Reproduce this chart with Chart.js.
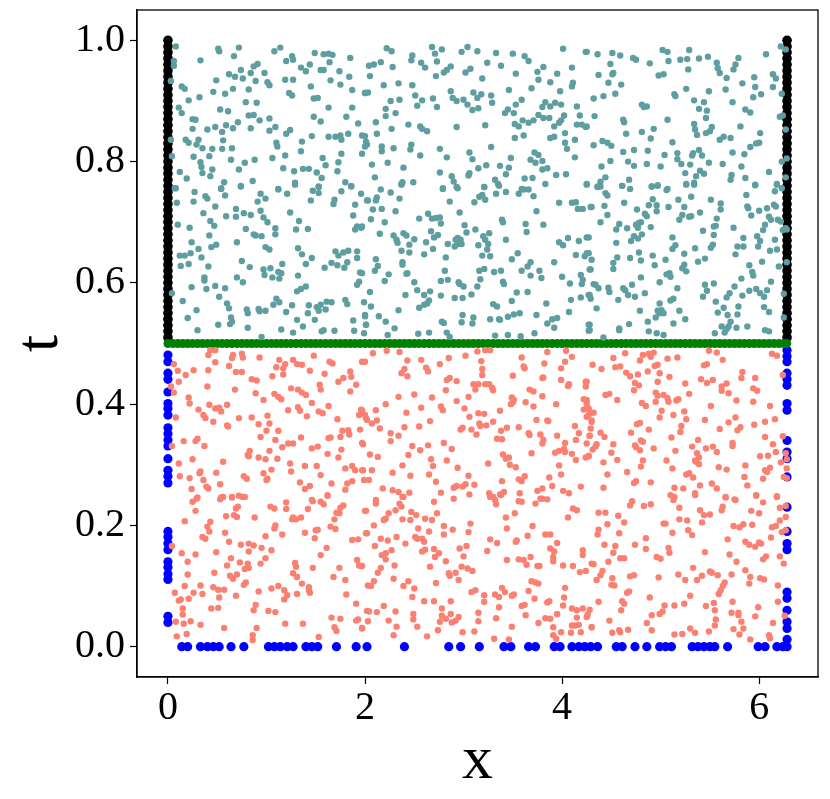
<!DOCTYPE html>
<html lang="en">
<head>
  <meta charset="UTF-8" />
  <title>Collocation points</title>
  <script src="https://cdn.jsdelivr.net/npm/chart.js"></script>
  <style>
    body { margin: 0; background: #fff; }
    #wrap { width: 830px; height: 799px; }
  </style>
</head>
<body>
  <div id="wrap"><canvas id="pts" width="830" height="799"></canvas></div>

  <script>
    // axis ticks
    const xTicks = [0, 2, 4, 6];
    const tTicks = [0, 0.2, 0.4, 0.6, 0.8, 1.0];

    // boundary points
    const blueBottomX = [0.14,0.20,0.33,0.40,0.46,0.52,0.64,0.77,1.02,1.08,1.14,1.21,1.27,1.40,1.46,1.52,1.71,1.91,2.02,2.40,2.85,2.97,3.16,3.41,3.48,3.66,3.73,3.92,3.98,4.10,4.17,4.23,4.29,4.36,4.55,4.61,4.74,4.86,4.99,5.05,5.11,5.32,5.38,5.44,5.50,5.55,5.68,5.99,6.06,6.18,6.24];
    const blueLeftT = [0.481,0.470,0.451,0.441,0.420,0.401,0.393,0.382,0.361,0.351,0.341,0.331,0.310,0.291,0.281,0.270,0.190,0.181,0.170,0.160,0.140,0.131,0.120,0.111,0.050,0.040];
    const blueRightT = [0.489,0.479,0.470,0.451,0.441,0.431,0.401,0.390,0.340,0.321,0.310,0.280,0.230,0.190,0.170,0.160,0.090,0.080,0.060,0.041,0.030,0.012,0.0];
    const blackT = [0.51,0.52,0.53,0.54,0.55,0.56,0.57,0.58,0.59,0.60,0.61,0.62,0.63,0.64,0.65,0.66,0.67,0.68,0.69,0.70,0.71,0.72,0.73,0.74,0.75,0.76,0.77,0.78,0.79,0.80,0.81,0.82,0.83,0.84,0.85,0.86,0.87,0.88,0.89,0.90,0.91,0.92,0.93,0.94,0.95,0.96,0.97,0.98,0.99,1.00];
    const greenX = [0,0.05,0.10,0.15,0.20,0.25,0.30,0.35,0.40,0.45,0.50,0.55,0.60,0.65,0.70,0.75,0.80,0.85,0.90,0.95,1.00,1.05,1.10,1.15,1.20,1.25,1.30,1.35,1.40,1.45,1.50,1.55,1.60,1.65,1.70,1.75,1.80,1.85,1.90,1.95,2.00,2.05,2.10,2.15,2.20,2.25,2.30,2.35,2.40,2.45,2.50,2.55,2.60,2.65,2.70,2.75,2.80,2.85,2.90,2.95,3.00,3.05,3.10,3.15,3.20,3.25,3.30,3.35,3.40,3.45,3.50,3.55,3.60,3.65,3.70,3.75,3.80,3.85,3.90,3.95,4.00,4.05,4.10,4.15,4.20,4.25,4.30,4.35,4.40,4.45,4.50,4.55,4.60,4.65,4.70,4.75,4.80,4.85,4.90,4.95,5.00,5.05,5.10,5.15,5.20,5.25,5.30,5.35,5.40,5.45,5.50,5.55,5.60,5.65,5.70,5.75,5.80,5.85,5.90,5.95,6.00,6.05,6.10,6.15,6.20,6.25,6.28];
    const xRight = 6.2832;
    const tMid = 0.5;

    // interior points, t > 0.5  [x, t]
    const upperPts = [
      [0.08,0.99],[0.51,0.986],[0.52,0.982],[0.72,0.988],[0.67,0.974],[0.33,0.967],[0.06,0.966],[0.06,0.958],[0.87,0.957],[0.91,0.961],
      [0.62,0.944],[0.74,0.951],[0.68,0.94],[0.76,0.937],[0.84,0.946],[0.98,0.946],[0.49,0.934],[0.03,0.933],[0.14,0.924],[0.17,0.92],
      [0.46,0.915],[0.58,0.912],[0.66,0.92],[0.82,0.919],[0.89,0.933],[1.01,0.931],[1.03,0.926],[0.32,0.906],[0.21,0.901],[0.79,0.898],
      [0.90,0.897],[0.11,0.889],[0.14,0.88],[0.53,0.886],[0.61,0.883],[0.25,0.87],[0.28,0.869],[0.82,0.876],[0.87,0.877],[0.93,0.868],
      [1.03,0.871],[0.71,0.865],[0.59,0.86],[0.48,0.857],[0.40,0.853],[0.25,0.854],[0.55,0.849],[0.66,0.855],[0.84,0.855],[1.03,0.851],
      [1.09,0.857],[0.18,0.836],[0.21,0.831],[0.31,0.836],[0.29,0.828],[0.56,0.835],[0.35,0.822],[0.45,0.821],[0.55,0.821],[0.65,0.822],
      [0.26,0.808],[0.42,0.809],[0.33,0.799],[0.34,0.791],[0.35,0.781],[0.64,0.803],[0.78,0.798],[0.88,0.803],[0.72,0.787],[0.45,0.787],
      [0.43,0.776],[0.12,0.783],[0.19,0.772],[0.57,0.766],[0.54,0.756],[0.74,0.76],[0.86,0.768],[0.08,0.756],[1.06,0.806],[1.19,0.81],
      [1.17,0.789],[1.10,0.831],[1.11,0.825],[1.20,0.846],[1.24,0.852],[1.36,0.833],[1.35,0.817],[1.46,0.842],[1.28,0.784],[1.37,0.788],
      [1.43,0.788],[1.51,0.782],[1.56,0.773],[1.29,0.765],[1.12,0.755],[1.53,0.759],[1.60,0.794],[1.57,0.806],[1.73,0.799],[1.72,0.784],
      [1.76,0.813],[1.63,0.841],[1.70,0.841],[1.75,0.843],[1.83,0.846],[1.76,0.836],[1.97,0.843],[2.02,0.828],[1.97,0.813],[1.93,0.863],
      [1.81,0.874],[1.63,0.889],[1.55,0.866],[1.48,0.874],[1.87,0.889],[2.00,0.913],[1.87,0.918],[1.75,0.927],[1.65,0.934],[1.84,0.94],
      [1.74,0.949],[1.58,0.951],[1.55,0.951],[1.45,0.924],[1.52,0.905],[1.48,0.904],[1.27,0.935],[1.19,0.935],[1.08,0.982],[1.14,0.988],
      [1.20,0.966],[1.26,0.974],[1.27,0.968],[1.49,0.979],[1.58,0.977],[1.63,0.978],[1.67,0.976],[1.64,0.964],[1.85,0.971],[1.35,0.955],
      [1.40,0.949],[1.44,0.96],[1.23,0.913],[1.26,0.909],[1.80,0.766],[1.86,0.76],[0.03,0.836],[0.04,0.809],
      [2.22,0.987],[2.27,0.982],[2.68,0.989],[2.71,0.978],[2.78,0.985],[2.48,0.975],[2.47,0.967],[2.57,0.963],[2.61,0.955],[2.73,0.965],
      [2.98,0.981],[3.04,0.989],[3.14,0.982],[3.33,0.979],[3.50,0.978],[3.62,0.974],[3.66,0.966],[4.01,0.986],[4.24,0.981],[2.04,0.958],
      [2.09,0.960],[2.16,0.964],[2.28,0.956],[2.05,0.941],[2.80,0.947],[2.83,0.951],[2.87,0.957],[3.02,0.947],[3.07,0.953],[2.72,0.941],
      [3.19,0.937],[3.24,0.963],[3.38,0.958],[3.53,0.945],[3.75,0.948],[3.81,0.956],[3.95,0.945],[4.10,0.955],[3.76,0.935],[3.88,0.931],
      [4.11,0.930],[4.10,0.924],[3.98,0.916],[2.19,0.926],[2.34,0.929],[2.48,0.926],[2.00,0.913],[2.03,0.914],[2.26,0.900],[2.35,0.902],
      [2.51,0.909],[2.58,0.901],[2.53,0.892],[2.69,0.904],[2.73,0.890],[2.87,0.916],[2.89,0.905],[2.93,0.900],[3.00,0.902],[3.04,0.894],
      [3.10,0.914],[3.14,0.905],[3.18,0.911],[3.09,0.885],[3.15,0.888],[3.28,0.909],[3.29,0.897],[3.46,0.918],[3.69,0.921],[3.45,0.886],
      [3.42,0.880],[3.53,0.894],[3.59,0.902],[3.51,0.880],[3.80,0.890],[3.83,0.898],[3.88,0.891],[3.93,0.897],[3.99,0.894],[3.76,0.877],
      [3.81,0.872],[3.87,0.872],[4.02,0.876],[3.99,0.868],[3.97,0.864],[4.15,0.891],[4.18,0.876],[2.21,0.887],[2.21,0.875],[2.31,0.880],
      [2.11,0.865],[2.27,0.854],[2.44,0.861],[2.56,0.858],[2.58,0.854],[2.63,0.850],[2.93,0.857],[3.22,0.860],[3.52,0.862],[3.56,0.858],
      [3.60,0.868],[3.66,0.864],[3.71,0.868],[3.92,0.858],[4.15,0.861],[4.20,0.861],[4.24,0.857],[4.03,0.847],[3.88,0.839],[3.92,0.841],
      [3.52,0.839],[3.61,0.843],[4.13,0.836],[2.12,0.846],[2.00,0.842],[2.00,0.825],[2.01,0.833],[2.17,0.825],[2.17,0.817],[2.29,0.822],
      [2.47,0.828],[2.46,0.820],[2.56,0.810],[2.76,0.821],[2.83,0.807],[3.06,0.815],[3.09,0.804],[3.28,0.824],[3.48,0.806],[3.72,0.815],
      [3.76,0.811],[3.68,0.803],[3.73,0.798],[3.80,0.801],[4.03,0.831],[4.05,0.821],[4.13,0.807],[2.07,0.795],[2.23,0.798],[2.39,0.790],
      [2.76,0.782],[2.88,0.776],[2.90,0.767],[3.06,0.781],[3.05,0.777],[3.15,0.789],[3.23,0.794],[3.37,0.793],[3.46,0.790],[3.43,0.779],
      [3.32,0.770],[3.35,0.763],[3.62,0.772],[3.70,0.773],[3.80,0.787],[3.85,0.789],[3.83,0.763],[3.94,0.778],[4.04,0.779],[2.10,0.774],
      [2.38,0.766],[2.37,0.763],[2.49,0.766],[2.79,0.756],[2.93,0.758],[3.21,0.758],[3.59,0.755],[4.25,0.763],
      [4.25,0.981],[4.36,0.977],[4.51,0.979],[4.59,0.975],[4.72,0.971],[4.75,0.968],[4.89,0.962],[5.02,0.984],[5.07,0.981],[5.08,0.966],
      [5.20,0.968],[5.27,0.969],[5.29,0.984],[5.39,0.970],[5.48,0.973],[5.57,0.963],[5.58,0.954],[5.60,0.946],[5.74,0.952],[5.76,0.960],
      [5.79,0.971],[6.07,0.977],[6.22,0.990],[6.27,0.985],[4.49,0.961],[4.52,0.946],[4.51,0.944],[4.37,0.943],[4.47,0.930],[4.60,0.927],
      [4.98,0.942],[5.03,0.944],[5.28,0.952],[5.67,0.938],[5.83,0.929],[5.95,0.939],[5.96,0.923],[6.14,0.944],[6.17,0.937],[6.14,0.923],
      [6.23,0.912],[5.66,0.919],[5.49,0.916],[5.26,0.920],[4.32,0.904],[4.42,0.908],[4.54,0.912],[5.15,0.908],[5.14,0.911],[5.34,0.901],
      [5.44,0.898],[5.39,0.887],[5.47,0.884],[5.46,0.872],[5.73,0.898],[5.94,0.906],[6.02,0.911],[5.86,0.886],[5.91,0.881],[4.81,0.894],
      [4.83,0.890],[4.86,0.891],[4.62,0.869],[4.63,0.865],[5.07,0.869],[4.33,0.875],[4.25,0.858],[6.21,0.874],[6.24,0.876],[6.27,0.853],
      [5.34,0.862],[5.35,0.853],[5.37,0.844],[5.46,0.847],[5.50,0.850],[5.52,0.857],[4.93,0.854],[4.81,0.849],[4.90,0.838],[4.65,0.846],
      [5.12,0.832],[5.81,0.858],[5.60,0.836],[5.64,0.841],[5.71,0.839],[6.01,0.847],[5.91,0.824],[5.97,0.830],[6.00,0.831],[4.41,0.834],
      [4.46,0.831],[4.50,0.826],[4.32,0.827],[4.62,0.816],[4.73,0.819],[4.87,0.818],[5.04,0.811],[5.17,0.814],[5.17,0.804],[5.21,0.796],
      [5.33,0.814],[5.32,0.810],[5.39,0.819],[5.42,0.810],[5.30,0.795],[5.25,0.781],[5.36,0.776],[5.40,0.785],[5.44,0.780],[5.49,0.798],
      [5.63,0.796],[5.73,0.815],[5.82,0.792],[5.85,0.812],[6.23,0.800],[6.28,0.805],[4.40,0.792],[4.49,0.801],[4.67,0.800],[4.73,0.793],
      [4.86,0.796],[5.00,0.792],[4.25,0.762],[4.36,0.759],[4.39,0.767],[4.44,0.774],[4.61,0.760],[4.68,0.770],[4.91,0.759],[4.97,0.761],
      [5.07,0.755],[5.26,0.763],[5.34,0.765],[5.72,0.778],[5.71,0.770],[5.86,0.773],[5.96,0.762],[6.10,0.783],[6.18,0.763],[6.27,0.774],
      [6.23,0.756],
      [0.07,0.756],[0.27,0.750],[0.38,0.743],[0.40,0.739],[0.54,0.755],[0.58,0.744],[0.09,0.732],[0.26,0.734],[0.48,0.726],[0.74,0.759],
      [0.91,0.734],[0.94,0.747],[0.99,0.739],[1.12,0.754],[1.21,0.747],[1.29,0.762],[1.47,0.752],[1.53,0.748],[1.53,0.758],[1.76,0.751],
      [1.86,0.759],[1.45,0.736],[1.69,0.737],[1.68,0.730],[1.90,0.729],[1.96,0.747],[2.02,0.736],[0.69,0.722],[0.69,0.709],[0.77,0.715],
      [0.84,0.712],[0.94,0.719],[0.97,0.708],[1.01,0.700],[0.36,0.715],[0.43,0.702],[0.47,0.694],[0.59,0.710],[1.24,0.716],[1.33,0.702],
      [1.42,0.689],[1.30,0.688],[1.09,0.690],[1.09,0.680],[1.88,0.711],[0.10,0.696],[0.22,0.691],[0.42,0.678],[0.24,0.667],[0.79,0.689],
      [0.87,0.680],[0.89,0.678],[0.95,0.677],[0.70,0.667],[0.31,0.656],[0.44,0.659],[0.49,0.663],[0.12,0.645],[0.17,0.645],[0.23,0.649],
      [0.34,0.642],[0.13,0.628],[0.21,0.631],[0.41,0.627],[0.99,0.659],[1.03,0.655],[1.32,0.657],[1.36,0.647],[1.46,0.641],[1.40,0.631],
      [0.75,0.636],[0.83,0.626],[0.97,0.622],[0.98,0.613],[1.04,0.624],[1.16,0.631],[1.12,0.618],[1.15,0.616],[1.13,0.607],[1.06,0.609],
      [1.32,0.612],[1.59,0.625],[1.66,0.633],[1.72,0.629],[1.79,0.625],[1.70,0.652],[1.73,0.645],[1.78,0.650],[1.83,0.653],[1.82,0.634],
      [1.92,0.641],[1.92,0.652],[1.95,0.617],[1.90,0.688],[1.92,0.693],[1.96,0.691],[0.37,0.609],[0.37,0.604],[0.24,0.593],[0.39,0.590],
      [0.48,0.595],[0.58,0.591],[0.70,0.609],[0.76,0.601],[0.52,0.577],[0.15,0.570],[0.29,0.555],[0.20,0.542],[0.30,0.522],[0.51,0.531],
      [0.60,0.566],[0.62,0.558],[0.64,0.543],[0.65,0.536],[0.63,0.532],[0.80,0.556],[0.81,0.550],[0.81,0.526],[0.92,0.557],[0.93,0.553],
      [0.99,0.554],[0.95,0.511],[1.10,0.574],[1.13,0.568],[1.07,0.564],[1.20,0.552],[1.26,0.563],[1.31,0.586],[1.35,0.590],[1.40,0.594],
      [1.43,0.563],[1.31,0.539],[1.37,0.528],[1.42,0.550],[1.49,0.539],[1.51,0.560],[1.53,0.554],[1.55,0.564],[1.61,0.569],[1.66,0.568],
      [1.60,0.556],[1.80,0.572],[1.82,0.565],[1.56,0.520],[1.58,0.522],[1.69,0.521],[1.15,0.523],[1.27,0.518],[1.88,0.538],[1.89,0.521],
      [2.00,0.545],[2.01,0.531],[1.94,0.602],[1.92,0.597],[0.04,0.583],
      [2.16,0.754],[2.26,0.749],[2.37,0.762],[2.12,0.741],[2.11,0.736],[2.03,0.736],[2.35,0.739],[2.08,0.721],[2.17,0.722],[2.31,0.718],
      [2.06,0.705],[2.20,0.700],[1.97,0.693],[2.15,0.681],[2.29,0.678],[2.32,0.671],[2.33,0.666],[2.39,0.682],[2.42,0.678],[2.50,0.672],
      [2.45,0.663],[2.37,0.653],[2.45,0.650],[2.60,0.647],[2.62,0.667],[2.69,0.656],[2.67,0.685],[2.70,0.675],[2.74,0.679],[2.55,0.706],
      [2.64,0.714],[2.68,0.706],[2.72,0.707],[2.76,0.708],[2.77,0.698],[2.79,0.755],[2.86,0.734],[2.94,0.756],[2.96,0.716],[3.01,0.695],
      [3.03,0.683],[2.92,0.671],[2.94,0.674],[2.97,0.671],[2.94,0.664],[2.91,0.660],[2.98,0.664],[2.84,0.664],[2.82,0.642],[3.12,0.688],
      [3.15,0.662],[3.20,0.677],[3.22,0.671],[3.25,0.664],[3.24,0.655],[3.19,0.645],[3.27,0.644],[3.26,0.682],[3.11,0.733],[3.16,0.742],
      [3.19,0.745],[3.22,0.737],[3.21,0.758],[3.33,0.747],[3.36,0.760],[3.43,0.750],[3.56,0.747],[3.61,0.754],[3.66,0.754],[3.71,0.743],
      [3.39,0.704],[3.40,0.700],[3.43,0.671],[3.63,0.697],[3.64,0.684],[3.74,0.718],[3.81,0.696],[3.97,0.732],[4.10,0.732],[4.14,0.733],
      [4.16,0.722],[4.21,0.722],[4.29,0.725],[4.06,0.674],[3.97,0.667],[4.01,0.662],[4.17,0.669],[4.27,0.675],[4.14,0.646],[4.23,0.644],
      [4.27,0.649],[3.92,0.634],[4.00,0.610],[4.08,0.599],[4.19,0.613],[4.21,0.605],[4.20,0.598],[4.29,0.622],[2.11,0.639],[2.13,0.628],
      [2.10,0.620],[2.24,0.614],[2.20,0.603],[1.97,0.616],[2.38,0.634],[2.38,0.630],[2.42,0.615],[2.43,0.616],[2.50,0.601],[2.53,0.588],
      [2.41,0.580],[2.60,0.580],[2.66,0.586],[2.65,0.571],[2.63,0.566],[2.60,0.564],[2.55,0.559],[2.77,0.603],[2.81,0.620],[2.84,0.605],
      [2.77,0.579],[2.95,0.601],[2.96,0.598],[3.00,0.594],[2.91,0.575],[2.99,0.575],[3.08,0.581],[3.14,0.594],[3.17,0.606],[3.16,0.620],
      [3.21,0.623],[3.31,0.618],[3.38,0.620],[3.40,0.602],[3.41,0.598],[3.49,0.639],[3.55,0.649],[3.59,0.620],[3.65,0.627],[3.68,0.634],
      [3.68,0.612],[3.77,0.620],[3.79,0.608],[3.54,0.584],[3.65,0.585],[3.49,0.570],[3.84,0.566],[4.09,0.572],[4.19,0.576],[4.28,0.580],
      [2.05,0.585],[1.99,0.568],[2.06,0.561],[2.00,0.547],[2.14,0.545],[2.21,0.536],[2.34,0.555],[2.30,0.525],[2.23,0.514],[2.01,0.531],
      [1.99,0.517],[2.54,0.516],[2.65,0.518],[2.78,0.536],[2.80,0.534],[2.83,0.518],[2.86,0.511],[2.99,0.547],[2.98,0.535],[3.10,0.543],
      [3.09,0.533],[3.27,0.540],[3.30,0.565],[3.34,0.561],[3.36,0.540],[3.37,0.539],[3.45,0.544],[3.51,0.548],[3.57,0.550],[3.74,0.547],
      [3.32,0.513],[3.45,0.514],[3.58,0.512],[3.72,0.517],[3.85,0.533],[3.90,0.540],[3.92,0.526],[3.95,0.542],[4.07,0.552],[4.28,0.531],
      [4.27,0.521],
      [4.36,0.758],[4.39,0.759],[4.44,0.748],[4.46,0.744],[4.61,0.760],[4.69,0.755],[4.91,0.759],[4.97,0.760],[5.06,0.753],[5.26,0.762],
      [5.34,0.762],[5.87,0.745],[5.96,0.761],[6.16,0.751],[6.18,0.762],[4.30,0.725],[4.43,0.727],[4.46,0.712],[4.63,0.732],[4.76,0.721],
      [4.84,0.714],[4.86,0.710],[4.88,0.728],[4.96,0.728],[4.96,0.718],[4.92,0.738],[5.08,0.725],[5.18,0.737],[5.24,0.725],[5.22,0.712],
      [5.19,0.704],[5.29,0.709],[5.31,0.710],[5.31,0.742],[5.40,0.716],[5.51,0.737],[5.61,0.731],[5.61,0.721],[5.57,0.706],[5.88,0.726],
      [5.89,0.723],[6.00,0.719],[6.08,0.723],[6.15,0.729],[6.17,0.726],[5.92,0.711],[6.10,0.709],[6.12,0.704],[6.19,0.704],[6.22,0.701],
      [6.27,0.690],[6.24,0.687],[6.28,0.688],[4.39,0.700],[4.55,0.688],[4.58,0.697],[4.66,0.690],[4.75,0.696],[4.78,0.699],[4.77,0.691],
      [4.80,0.700],[4.90,0.692],[4.25,0.675],[4.55,0.666],[4.70,0.669],[4.73,0.677],[4.77,0.673],[4.81,0.680],[5.12,0.675],[5.15,0.662],
      [5.12,0.656],[5.24,0.648],[5.35,0.657],[5.43,0.686],[5.54,0.693],[5.56,0.694],[5.54,0.679],[5.53,0.663],[5.51,0.658],[5.74,0.691],
      [5.84,0.674],[5.84,0.660],[5.78,0.660],[5.76,0.647],[5.98,0.677],[6.01,0.669],[5.99,0.660],[6.04,0.687],[6.06,0.696],[6.16,0.671],
      [6.11,0.653],[6.18,0.655],[4.25,0.649],[4.30,0.638],[4.28,0.622],[4.52,0.633],[4.56,0.642],[4.52,0.623],[4.69,0.641],[4.78,0.650],
      [4.80,0.637],[4.92,0.645],[4.94,0.629],[5.05,0.638],[5.24,0.630],[5.22,0.624],[5.26,0.619],[5.38,0.635],[5.45,0.640],[5.06,0.614],
      [5.09,0.616],[5.10,0.610],[4.99,0.601],[4.80,0.609],[4.62,0.591],[4.64,0.588],[4.71,0.597],[4.32,0.598],[4.34,0.597],[4.37,0.591],
      [4.27,0.580],[4.29,0.574],[4.47,0.592],[4.48,0.585],[4.57,0.572],[4.74,0.577],[4.67,0.580],[4.84,0.583],[5.17,0.591],[5.10,0.571],
      [5.13,0.574],[4.99,0.566],[5.01,0.555],[4.99,0.550],[5.03,0.550],[4.79,0.554],[4.87,0.536],[4.95,0.543],[4.97,0.554],[4.68,0.532],
      [4.58,0.525],[4.58,0.522],[4.88,0.520],[4.96,0.517],[5.03,0.514],[5.19,0.554],[5.25,0.540],[5.13,0.533],[5.45,0.597],[5.47,0.587],
      [5.43,0.577],[5.54,0.599],[5.56,0.569],[5.58,0.551],[5.64,0.559],[5.68,0.547],[5.70,0.583],[5.67,0.576],[5.75,0.594],[5.82,0.607],
      [5.78,0.548],[5.79,0.561],[5.83,0.579],[5.90,0.629],[5.93,0.618],[5.94,0.612],[5.90,0.587],[5.97,0.590],[6.01,0.583],[6.05,0.577],
      [6.08,0.588],[6.12,0.602],[6.05,0.560],[6.10,0.552],[6.03,0.635],[6.20,0.627],[6.25,0.582],[6.28,0.634],[6.25,0.543],[5.88,0.528],
      [5.71,0.536],[5.69,0.528],[5.67,0.524],[5.62,0.528],[5.55,0.517],[5.65,0.518],[5.77,0.526],[6.06,0.522],[6.10,0.520],[4.42,0.510],
      [4.35,0.558],[4.27,0.531],[4.28,0.522]
    ];

    // interior points, t < 0.5  [x, t]
    const lowerPts = [
      [0.43,0.489],[0.48,0.489],[0.41,0.481],[0.48,0.469],[0.62,0.463],[0.65,0.476],[0.66,0.481],[0.75,0.483],[0.76,0.477],[0.69,0.453],
      [0.75,0.453],[0.93,0.477],[1.13,0.473],[1.19,0.466],[1.27,0.473],[1.31,0.466],[1.36,0.465],[1.10,0.461],[1.17,0.459],[1.17,0.449],
      [1.06,0.446],[1.44,0.455],[1.48,0.480],[1.64,0.470],[1.67,0.467],[1.59,0.450],[1.85,0.454],[1.86,0.445],[1.78,0.443],[1.73,0.437],
      [1.91,0.432],[1.85,0.421],[1.97,0.470],[0.06,0.466],[0.10,0.455],[0.18,0.448],[0.26,0.456],[0.41,0.456],[0.11,0.437],[0.03,0.429],
      [0.06,0.419],[0.40,0.429],[0.68,0.424],[0.85,0.441],[0.90,0.439],[0.89,0.418],[0.97,0.407],[1.08,0.417],[1.12,0.412],[1.15,0.408],
      [1.25,0.426],[1.32,0.424],[1.36,0.419],[1.40,0.415],[1.46,0.402],[1.54,0.432],[1.55,0.424],[0.21,0.411],[0.22,0.401],[0.31,0.391],
      [0.36,0.382],[0.38,0.377],[0.42,0.399],[0.48,0.393],[0.52,0.394],[0.54,0.388],[0.60,0.399],[0.46,0.371],[0.60,0.365],[0.61,0.363],
      [0.72,0.377],[0.85,0.378],[0.92,0.367],[1.01,0.381],[1.03,0.368],[1.22,0.390],[1.32,0.395],[1.34,0.389],[1.41,0.380],[1.53,0.388],
      [1.57,0.385],[1.63,0.397],[1.72,0.375],[1.96,0.391],[1.94,0.382],[2.01,0.377],[0.08,0.378],[0.16,0.339],[0.28,0.339],[0.30,0.343],
      [0.37,0.331],[0.04,0.331],[0.25,0.309],[0.11,0.302],[0.12,0.281],[0.22,0.278],[0.32,0.286],[0.33,0.289],[0.36,0.275],[0.39,0.264],
      [0.41,0.261],[0.24,0.260],[0.30,0.246],[0.54,0.246],[0.56,0.247],[0.65,0.247],[0.49,0.287],[0.56,0.305],[0.77,0.281],[0.80,0.277],
      [0.82,0.314],[0.81,0.316],[0.83,0.323],[0.92,0.312],[0.99,0.309],[0.97,0.286],[1.00,0.275],[1.01,0.277],[1.05,0.292],[1.11,0.310],
      [1.03,0.323],[1.16,0.329],[1.00,0.356],[0.94,0.346],[1.12,0.356],[1.09,0.341],[1.22,0.335],[1.27,0.335],[1.35,0.345],[1.24,0.302],
      [1.25,0.289],[1.39,0.298],[1.51,0.298],[1.55,0.283],[1.46,0.327],[1.52,0.330],[1.62,0.318],[1.63,0.344],[1.65,0.345],[1.73,0.312],
      [1.76,0.325],[1.75,0.346],[1.77,0.356],[1.83,0.357],[1.84,0.350],[1.95,0.358],[1.98,0.334],[1.80,0.294],[1.87,0.298],[1.90,0.291],
      [1.98,0.291],[1.34,0.271],[1.39,0.260],[1.44,0.265],[1.62,0.249],[1.66,0.269],[1.80,0.259],[1.82,0.269],[1.87,0.273],[0.72,0.249],
      [0.76,0.247],[0.53,0.268],[1.46,0.242],
      [2.08,0.484],[2.22,0.488],[2.35,0.486],[2.00,0.470],[2.43,0.472],[2.57,0.473],[2.62,0.460],[2.64,0.454],[2.37,0.451],[2.40,0.458],
      [2.43,0.446],[2.76,0.466],[2.85,0.476],[3.02,0.480],[3.14,0.487],[3.22,0.489],[3.27,0.489],[3.18,0.471],[3.19,0.458],[3.19,0.448],
      [2.86,0.443],[2.83,0.440],[2.93,0.438],[3.10,0.433],[3.15,0.433],[3.12,0.424],[3.22,0.433],[3.26,0.433],[3.29,0.427],[3.30,0.423],
      [2.82,0.423],[2.50,0.416],[2.34,0.412],[2.68,0.411],[2.21,0.400],[2.57,0.394],[2.42,0.386],[2.11,0.390],[1.97,0.390],[2.00,0.382],
      [2.02,0.374],[2.12,0.373],[2.07,0.368],[2.93,0.405],[2.77,0.396],[2.79,0.390],[3.05,0.412],[3.01,0.393],[3.06,0.379],[3.15,0.385],
      [3.21,0.384],[3.30,0.371],[3.37,0.389],[3.16,0.368],[3.17,0.364],[3.23,0.365],[2.66,0.372],[2.40,0.362],[2.55,0.363],[2.15,0.360],
      [2.97,0.358],[2.99,0.361],[3.08,0.358],[3.13,0.350],[3.38,0.356],[3.44,0.361],[3.56,0.362],[3.34,0.343],[3.39,0.342],[3.66,0.352],
      [3.67,0.349],[3.78,0.350],[3.81,0.341],[3.80,0.335],[3.63,0.403],[3.71,0.396],[3.74,0.374],[3.86,0.372],[3.94,0.400],[3.50,0.447],
      [3.61,0.462],[3.62,0.459],[3.59,0.477],[3.82,0.467],[3.85,0.486],[4.04,0.488],[4.10,0.478],[4.03,0.470],[3.99,0.459],[3.80,0.443],
      [3.81,0.444],[3.67,0.424],[3.71,0.421],[3.80,0.413],[3.99,0.440],[4.07,0.433],[4.06,0.430],[4.24,0.437],[4.24,0.429],[4.22,0.408],
      [4.25,0.401],[4.22,0.391],[4.27,0.393],[4.27,0.382],[4.30,0.371],[3.49,0.411],[3.50,0.403],[3.48,0.400],[3.51,0.407],[4.13,0.364],
      [4.17,0.352],[4.14,0.341],[4.03,0.336],[3.95,0.348],[4.02,0.326],[3.93,0.320],[3.97,0.323],[4.03,0.321],[4.10,0.318],[4.14,0.308],
      [4.24,0.312],[4.27,0.314],[4.28,0.348],[3.85,0.373],[1.97,0.336],[2.05,0.317],[2.13,0.313],[2.26,0.352],[2.26,0.339],[2.34,0.348],
      [2.48,0.331],[2.56,0.324],[2.64,0.332],[2.80,0.336],[2.88,0.326],[2.67,0.309],[2.69,0.298],[2.38,0.299],[2.44,0.316],[2.83,0.307],
      [2.94,0.295],[3.05,0.282],[3.25,0.302],[3.40,0.317],[3.43,0.310],[3.46,0.312],[3.47,0.300],[3.53,0.296],[3.69,0.319],[3.39,0.273],
      [3.41,0.255],[3.38,0.251],[3.56,0.276],[3.59,0.273],[3.62,0.281],[3.75,0.257],[3.80,0.261],[3.87,0.279],[3.90,0.265],[3.97,0.299],
      [3.99,0.284],[4.01,0.257],[4.07,0.253],[4.19,0.264],[1.97,0.291],[1.99,0.275],[2.04,0.275],[2.07,0.291],[2.18,0.261],[2.28,0.287],
      [2.28,0.258],[2.34,0.255],[2.46,0.282],[2.39,0.247],[2.45,0.254],[2.65,0.284],[2.72,0.272],[2.77,0.254],[2.90,0.262],[2.93,0.265],
      [2.99,0.264],[3.02,0.268],[3.06,0.251],[3.11,0.267],[3.26,0.253],[3.30,0.247],[3.37,0.251],[3.57,0.253],[3.80,0.244],[3.85,0.243],
      [4.52,0.476],[4.64,0.484],[4.79,0.472],[4.82,0.481],[4.88,0.483],[4.90,0.478],[4.93,0.485],[5.07,0.475],[5.17,0.477],[4.31,0.465],
      [4.40,0.458],[4.54,0.461],[4.59,0.462],[4.65,0.452],[4.69,0.446],[4.77,0.449],[4.87,0.454],[4.94,0.463],[4.97,0.465],[4.99,0.451],
      [4.74,0.435],[4.78,0.431],[4.73,0.423],[4.25,0.437],[4.97,0.437],[5.09,0.445],[5.25,0.434],[5.41,0.441],[5.47,0.435],[5.53,0.440],
      [5.44,0.464],[5.47,0.466],[5.49,0.488],[5.57,0.485],[5.63,0.473],[5.83,0.453],[5.82,0.443],[5.96,0.443],[6.13,0.483],[6.18,0.480],
      [6.24,0.448],[5.62,0.429],[5.67,0.434],[5.62,0.422],[5.69,0.418],[5.94,0.426],[5.98,0.422],[4.95,0.419],[4.97,0.414],[5.03,0.415],
      [5.07,0.410],[5.08,0.404],[5.16,0.406],[5.18,0.408],[4.81,0.402],[4.85,0.397],[4.95,0.404],[5.29,0.417],[4.44,0.415],[4.48,0.417],
      [4.56,0.407],[4.25,0.407],[4.25,0.393],[4.29,0.386],[4.32,0.386],[4.30,0.373],[4.25,0.379],[5.77,0.406],[5.94,0.404],[6.11,0.397],
      [5.51,0.397],[5.01,0.389],[4.99,0.378],[5.13,0.382],[5.24,0.388],[5.26,0.375],[5.21,0.364],[5.20,0.354],[4.88,0.358],[4.76,0.367],
      [4.79,0.369],[4.70,0.353],[4.39,0.353],[4.43,0.346],[4.29,0.360],[4.28,0.348],[4.25,0.335],[4.34,0.330],[4.35,0.334],[4.31,0.325],
      [4.27,0.315],[4.52,0.334],[4.50,0.320],[4.56,0.308],[4.42,0.304],[4.75,0.329],[4.79,0.324],[4.74,0.332],[4.82,0.338],[4.80,0.340],
      [4.93,0.327],[5.11,0.345],[5.15,0.323],[5.06,0.307],[4.80,0.297],[4.82,0.307],[4.66,0.288],[4.46,0.284],[4.42,0.262],[4.73,0.270],
      [4.75,0.273],[4.90,0.271],[5.12,0.294],[5.14,0.262],[5.23,0.261],[5.26,0.284],[5.29,0.286],[5.33,0.279],[5.38,0.341],[5.32,0.330],
      [5.37,0.319],[5.39,0.312],[5.36,0.305],[5.39,0.301],[5.35,0.307],[5.46,0.327],[5.53,0.330],[5.57,0.321],[5.45,0.374],[5.60,0.359],
      [5.69,0.370],[5.76,0.378],[5.78,0.357],[5.81,0.362],[5.73,0.336],[5.73,0.331],[5.95,0.366],[6.06,0.371],[6.16,0.375],[6.06,0.346],
      [6.14,0.334],[6.17,0.321],[6.24,0.347],[6.27,0.319],[6.28,0.309],[6.22,0.304],[6.01,0.314],[6.09,0.315],[5.86,0.299],[5.59,0.296],
      [5.67,0.292],[5.52,0.269],[5.57,0.261],[5.40,0.266],[5.35,0.253],[5.85,0.280],[5.88,0.266],[6.04,0.277],[6.06,0.291],[6.08,0.288],
      [6.11,0.295],[6.28,0.294],[6.25,0.280],[6.28,0.278],[5.97,0.249],[6.18,0.248],[5.66,0.246],[5.75,0.243],[5.14,0.247],
      [0.25,0.239],[0.29,0.244],[0.53,0.243],[0.65,0.246],[0.76,0.247],[0.78,0.247],[0.28,0.224],[0.71,0.231],[0.69,0.228],[0.59,0.215],
      [0.67,0.217],[0.70,0.214],[0.88,0.213],[1.04,0.231],[1.08,0.228],[1.20,0.238],[1.20,0.227],[1.26,0.210],[1.30,0.210],[1.35,0.213],
      [1.42,0.227],[1.47,0.240],[1.55,0.239],[1.58,0.235],[1.62,0.250],[1.71,0.221],[1.75,0.229],[1.78,0.233],[1.69,0.210],[1.74,0.220],
      [2.01,0.224],[0.17,0.207],[0.43,0.206],[0.40,0.198],[0.42,0.190],[0.35,0.181],[0.38,0.178],[0.58,0.188],[0.62,0.173],[0.74,0.168],
      [0.82,0.170],[0.87,0.167],[0.82,0.157],[0.95,0.163],[1.05,0.159],[0.99,0.182],[1.08,0.195],[1.09,0.200],[1.16,0.185],[1.27,0.213],
      [1.39,0.188],[1.50,0.192],[1.52,0.193],[1.49,0.179],[1.65,0.198],[1.70,0.194],[1.87,0.176],[1.93,0.177],[2.01,0.187],[1.61,0.163],
      [1.55,0.151],[0.04,0.166],[0.14,0.154],[0.28,0.152],[0.20,0.140],[0.49,0.156],[0.64,0.146],[0.73,0.139],[0.60,0.134],[0.81,0.137],
      [0.82,0.130],[0.78,0.128],[0.94,0.137],[0.99,0.146],[1.29,0.138],[1.30,0.132],[1.27,0.121],[1.31,0.115],[1.36,0.104],[1.47,0.130],
      [1.43,0.098],[1.43,0.093],[1.44,0.089],[1.68,0.115],[1.74,0.130],[1.80,0.110],[1.92,0.143],[1.94,0.134],[1.96,0.133],[2.03,0.101],
      [1.81,0.086],[1.91,0.071],[1.93,0.045],[0.20,0.119],[0.47,0.122],[0.63,0.117],[0.66,0.112],[0.70,0.119],[0.79,0.106],[0.77,0.102],
      [0.92,0.091],[1.05,0.096],[1.12,0.100],[1.18,0.093],[1.21,0.085],[1.31,0.087],[1.18,0.078],[0.07,0.089],[0.13,0.078],[0.11,0.076],
      [0.17,0.100],[0.21,0.079],[0.26,0.089],[0.33,0.101],[0.35,0.087],[0.46,0.098],[0.51,0.094],[0.57,0.094],[0.52,0.081],[0.69,0.084],
      [1.02,0.059],[1.09,0.057],[0.89,0.069],[0.87,0.060],[0.44,0.063],[0.51,0.064],[0.15,0.063],[0.15,0.053],[0.16,0.038],[0.23,0.042],
      [0.08,0.041],[0.33,0.036],[0.09,0.017],[0.19,0.021],[0.57,0.031],[0.90,0.031],[0.86,0.019],[0.86,0.011],[1.19,0.038],[1.37,0.038],
      [1.53,0.016],[1.66,0.048],[1.69,0.032],[1.71,0.026],[1.75,0.046],[1.91,0.043],[1.97,0.030],[2.02,0.059],
      [2.11,0.242],[2.11,0.236],[2.38,0.247],[2.70,0.239],[2.90,0.244],[3.27,0.247],[3.32,0.242],[3.33,0.235],[3.38,0.250],[3.56,0.240],
      [3.59,0.239],[3.73,0.236],[3.78,0.244],[2.00,0.224],[2.24,0.220],[2.31,0.225],[2.35,0.236],[2.37,0.231],[2.47,0.222],[2.52,0.217],
      [2.38,0.210],[2.46,0.209],[2.61,0.211],[2.68,0.209],[2.73,0.220],[2.19,0.209],[2.21,0.211],[2.09,0.200],[2.02,0.187],[2.16,0.178],
      [2.23,0.175],[2.32,0.181],[2.41,0.170],[2.51,0.181],[2.54,0.195],[2.53,0.178],[2.58,0.178],[2.60,0.173],[2.65,0.190],[2.80,0.199],
      [2.89,0.193],[2.80,0.185],[3.05,0.189],[3.07,0.203],[3.43,0.213],[3.44,0.195],[3.52,0.220],[3.70,0.199],[3.65,0.183],[4.11,0.228],
      [4.15,0.225],[4.06,0.213],[3.83,0.185],[3.88,0.185],[3.95,0.171],[3.53,0.173],[3.54,0.175],[3.34,0.171],[3.27,0.177],[3.03,0.166],
      [2.96,0.162],[3.00,0.149],[3.24,0.158],[2.70,0.161],[2.71,0.148],[2.75,0.154],[2.61,0.160],[2.58,0.157],[2.27,0.159],[2.21,0.154],
      [2.17,0.151],[2.21,0.144],[2.10,0.166],[1.97,0.133],[2.16,0.130],[2.13,0.122],[2.30,0.134],[2.29,0.112],[2.39,0.100],[2.44,0.108],
      [2.50,0.096],[2.48,0.082],[2.09,0.108],[2.06,0.100],[2.66,0.132],[2.72,0.105],[2.82,0.141],[2.85,0.121],[2.86,0.117],[2.92,0.122],
      [2.98,0.132],[3.04,0.129],[3.09,0.125],[2.95,0.110],[3.44,0.143],[3.56,0.144],[3.61,0.143],[3.64,0.135],[3.68,0.148],[3.75,0.133],
      [3.77,0.133],[3.88,0.162],[3.92,0.157],[3.91,0.148],[3.91,0.141],[4.01,0.134],[4.11,0.133],[4.21,0.159],[4.21,0.151],[4.18,0.123],
      [4.24,0.125],[4.30,0.137],[3.69,0.108],[3.73,0.106],[3.76,0.104],[3.66,0.092],[3.72,0.079],[4.03,0.097],[4.02,0.081],[3.85,0.073],
      [3.87,0.075],[4.01,0.068],[4.10,0.063],[4.15,0.060],[4.21,0.063],[4.26,0.053],[4.15,0.048],[4.10,0.035],[4.17,0.036],[4.13,0.035],
      [4.09,0.023],[4.19,0.024],[4.30,0.032],[3.88,0.046],[3.95,0.054],[3.83,0.047],[3.76,0.039],[3.91,0.032],[3.91,0.019],[3.94,0.013],
      [3.99,0.024],[3.59,0.067],[3.62,0.069],[3.63,0.052],[3.49,0.033],[3.32,0.086],[3.36,0.082],[3.42,0.090],[3.39,0.097],[3.49,0.084],
      [3.51,0.086],[3.46,0.012],[3.31,0.013],[3.36,0.065],[3.33,0.047],[3.21,0.074],[3.21,0.085],[3.15,0.056],[3.15,0.042],[3.11,0.025],
      [3.08,0.090],[3.12,0.093],[2.99,0.024],[2.95,0.049],[2.92,0.043],[2.87,0.054],[2.87,0.075],[2.88,0.040],[2.78,0.063],[2.78,0.051],
      [2.76,0.041],[2.74,0.027],[2.82,0.046],[2.70,0.075],[2.60,0.075],[2.49,0.054],[2.49,0.045],[2.53,0.033],[2.32,0.033],[2.31,0.058],
      [2.29,0.019],[2.24,0.043],[2.19,0.067],[2.12,0.057],[2.04,0.058],[2.03,0.042],[1.97,0.031],[2.63,0.017],
      [4.69,0.233],[4.71,0.240],[4.83,0.232],[4.90,0.235],[5.10,0.250],[5.13,0.242],[5.19,0.229],[5.35,0.250],[5.40,0.225],[5.44,0.217],
      [5.50,0.218],[5.42,0.205],[5.62,0.225],[5.63,0.231],[5.66,0.247],[5.76,0.242],[5.97,0.250],[6.04,0.238],[6.00,0.220],[5.92,0.224],
      [6.18,0.247],[6.21,0.229],[6.27,0.214],[6.21,0.208],[6.27,0.232],[4.37,0.221],[4.44,0.221],[4.57,0.216],[4.63,0.205],[4.46,0.202],
      [4.37,0.193],[4.36,0.185],[4.58,0.187],[4.85,0.179],[4.85,0.161],[4.74,0.168],[4.43,0.168],[4.54,0.166],[4.52,0.155],[4.59,0.146],
      [4.63,0.146],[4.96,0.148],[5.00,0.145],[5.09,0.155],[5.08,0.163],[5.03,0.203],[5.05,0.203],[5.12,0.188],[5.19,0.210],[5.27,0.208],
      [5.28,0.192],[5.32,0.184],[5.68,0.177],[5.74,0.199],[5.80,0.197],[5.84,0.202],[5.93,0.201],[5.86,0.173],[5.90,0.168],[5.96,0.165],
      [6.00,0.172],[6.02,0.170],[6.12,0.180],[6.13,0.197],[6.17,0.199],[6.23,0.189],[5.70,0.152],[5.77,0.140],[6.04,0.144],[6.07,0.149],
      [6.21,0.149],[6.25,0.137],[5.45,0.156],[4.32,0.136],[4.47,0.140],[4.41,0.125],[4.39,0.118],[4.35,0.110],[4.50,0.102],[4.53,0.101],
      [4.51,0.113],[4.69,0.116],[4.73,0.118],[4.68,0.091],[4.66,0.089],[4.98,0.114],[5.18,0.119],[5.25,0.110],[5.33,0.130],[5.37,0.110],
      [5.42,0.117],[5.50,0.124],[5.52,0.122],[5.58,0.118],[5.65,0.106],[5.63,0.100],[5.61,0.093],[5.59,0.087],[5.72,0.119],[5.86,0.126],
      [5.91,0.115],[5.90,0.104],[6.01,0.113],[6.05,0.111],[6.19,0.101],[4.37,0.074],[4.28,0.061],[4.25,0.049],[4.30,0.032],[4.48,0.043],
      [4.51,0.023],[4.58,0.027],[4.59,0.024],[4.67,0.028],[4.61,0.075],[4.63,0.071],[4.60,0.060],[4.89,0.081],[4.91,0.052],[4.86,0.039],
      [4.91,0.027],[4.99,0.054],[5.02,0.058],[5.04,0.068],[5.14,0.068],[5.24,0.071],[5.30,0.084],[5.30,0.030],[5.22,0.021],[5.35,0.023],
      [5.14,0.020],[5.46,0.067],[5.54,0.072],[5.55,0.060],[5.56,0.045],[5.55,0.035],[5.49,0.025],[5.73,0.074],[5.72,0.056],[5.79,0.056],
      [5.79,0.052],[5.82,0.041],[5.74,0.029],[5.84,0.030],[5.80,0.020],[5.91,0.012],[5.96,0.050],[5.99,0.065],[6.10,0.019],[6.11,0.014],
      [6.14,0.039],[6.19,0.074],[6.26,0.051],[6.27,0.192]
    ];

    const tickFont = { family: "'Liberation Serif', 'DejaVu Serif', serif", size: 40 };
    const titleFont = { family: "'Liberation Serif', 'DejaVu Serif', serif", size: 62 };

    const boundary = [
      ...blueBottomX.map(x => ({ x, y: 0 })),
      ...blueLeftT.map(t => ({ x: 0, y: t })),
      ...blueRightT.map(t => ({ x: xRight, y: t }))
    ];
    const walls = [
      ...blackT.map(t => ({ x: 0, y: t })),
      ...blackT.map(t => ({ x: xRight, y: t }))
    ];
    const interface_ = greenX.map(x => ({ x, y: tMid }));

    // box round the plot, like the matplotlib spines
    const frame = {
      id: 'frame',
      afterDatasetsDraw(chart) {
        const { ctx, chartArea: a } = chart;
        ctx.save();
        ctx.strokeStyle = '#000';
        ctx.lineWidth = 1.3;
        ctx.strokeRect(a.left, a.top, a.right - a.left, a.bottom - a.top);
        ctx.restore();
      }
    };

    new Chart(document.getElementById('pts'), {
      type: 'scatter',
      data: {
        datasets: [
          { label: 'upper', data: upperPts.map(([x, t]) => ({ x, y: t })), backgroundColor: '#5F9EA0', pointRadius: 3.2, order: 0 },
          { label: 'lower', data: lowerPts.map(([x, t]) => ({ x, y: t })), backgroundColor: '#FA8072', pointRadius: 3.2, order: 0 },
          { label: 'interface', data: interface_, backgroundColor: '#008000', pointRadius: 4.5, order: 1 },
          { label: 'walls', data: walls, backgroundColor: '#000000', pointRadius: 4.8, order: 2 },
          { label: 'boundary', data: boundary, backgroundColor: '#0000FF', pointRadius: 4.6, order: 3 }
        ]
      },
      options: {
        responsive: false,
        animation: false,
        events: [],
        layout: { padding: { top: 10, right: 12, left: 0, bottom: 0 } },
        plugins: { legend: { display: false }, tooltip: { enabled: false } },
        elements: { point: { borderWidth: 0 } },
        scales: {
          x: {
            type: 'linear',
            min: -0.3142,
            max: 6.5973,
            afterBuildTicks: s => { s.ticks = xTicks.map(v => ({ value: v })); },
            afterFit: s => { s.height = 122; s.paddingLeft = 0; s.paddingRight = 0; },
            ticks: { font: tickFont, color: '#000', padding: 0, callback: v => String(v) },
            grid: { drawOnChartArea: false, drawTicks: true, tickLength: 7, tickWidth: 1.2, tickColor: '#000' },
            border: { color: '#000', width: 1.3 },
            title: { display: true, text: 'x', font: titleFont, color: '#000', padding: { top: 0, bottom: 0 } }
          },
          y: {
            type: 'linear',
            min: -0.05,
            max: 1.05,
            afterBuildTicks: s => { s.ticks = tTicks.map(v => ({ value: v })); },
            afterFit: s => { s.width = 137; s.paddingTop = 0; s.paddingBottom = 0; },
            ticks: { font: tickFont, color: '#000', padding: 5, callback: v => v.toFixed(1) },
            grid: { drawOnChartArea: false, drawTicks: true, tickLength: 7, tickWidth: 1.2, tickColor: '#000' },
            border: { color: '#000', width: 1.3 },
            title: { display: true, text: 't', font: titleFont, color: '#000', padding: { top: 4, bottom: 0 } }
          }
        }
      },
      plugins: [frame]
    });
  </script>
</body>
</html>
